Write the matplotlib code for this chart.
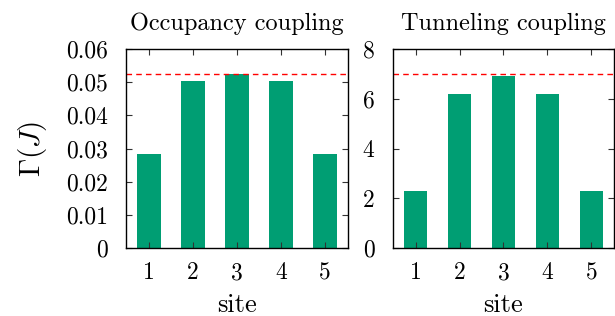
import matplotlib
matplotlib.use("Agg")
import matplotlib.pyplot as plt

sites = [1, 2, 3, 4, 5]
occupancy = [0.0284, 0.0504, 0.0525, 0.0504, 0.0284]
occupancy_ref = 0.0526
tunneling = [2.30, 6.18, 6.93, 6.18, 2.30]
tunneling_ref = 7.0
occ_yticks = [0, 0.01, 0.02, 0.03, 0.04, 0.05, 0.06]
occ_yticklabels = ["0", "0.01", "0.02", "0.03", "0.04", "0.05", "0.06"]
tun_yticks = [0, 2, 4, 6, 8]
tun_yticklabels = ["0", "2", "4", "6", "8"]
titles = ["Occupancy coupling", "Tunneling coupling"]

plt.rcParams['font.family'] = ['cmr10', 'DejaVu Serif']
plt.rcParams['mathtext.fontset'] = 'cm'
plt.rcParams['axes.unicode_minus'] = False

fig = plt.figure(figsize=(6.15, 3.16), dpi=100)
ax1 = fig.add_axes([0.2049, 0.2152, 0.361, 0.6297])
ax2 = fig.add_axes([0.6385, 0.2152, 0.3603, 0.6297])

green = "#009E73"
for ax, vals, ref, yt, ytl, ttl, ymax in [
    (ax1, occupancy, occupancy_ref, occ_yticks, occ_yticklabels, titles[0], 0.06),
    (ax2, tunneling, tunneling_ref, tun_yticks, tun_yticklabels, titles[1], 8),
]:
    ax.bar(sites, vals, width=0.53, color=green, edgecolor="none")
    ax.axhline(ref, color="red", linestyle=(0, (4, 3)), linewidth=1.0)
    ax.set_xlim(0.48, 5.52)
    ax.set_ylim(0, ymax)
    ax.set_xticks(sites)
    ax.set_xticklabels([str(s) for s in sites])
    ax.set_yticks(yt)
    ax.set_yticklabels(ytl)
    ax.tick_params(direction="in", length=4, width=0.8, top=True, right=True,
                   labelsize=17, color="#333333")
    ax.tick_params(axis="y", pad=13)
    ax.tick_params(axis="x", pad=10)
    for sp in ax.spines.values():
        sp.set_linewidth(1.0)
    ax.set_xlabel("site", fontsize=19, labelpad=7)
    ax.set_title(ttl, fontsize=17.5, pad=14)

ax1.set_ylabel(r"$\Gamma(J)$", fontsize=21, labelpad=12)

fig.savefig("out.png", dpi=100)
